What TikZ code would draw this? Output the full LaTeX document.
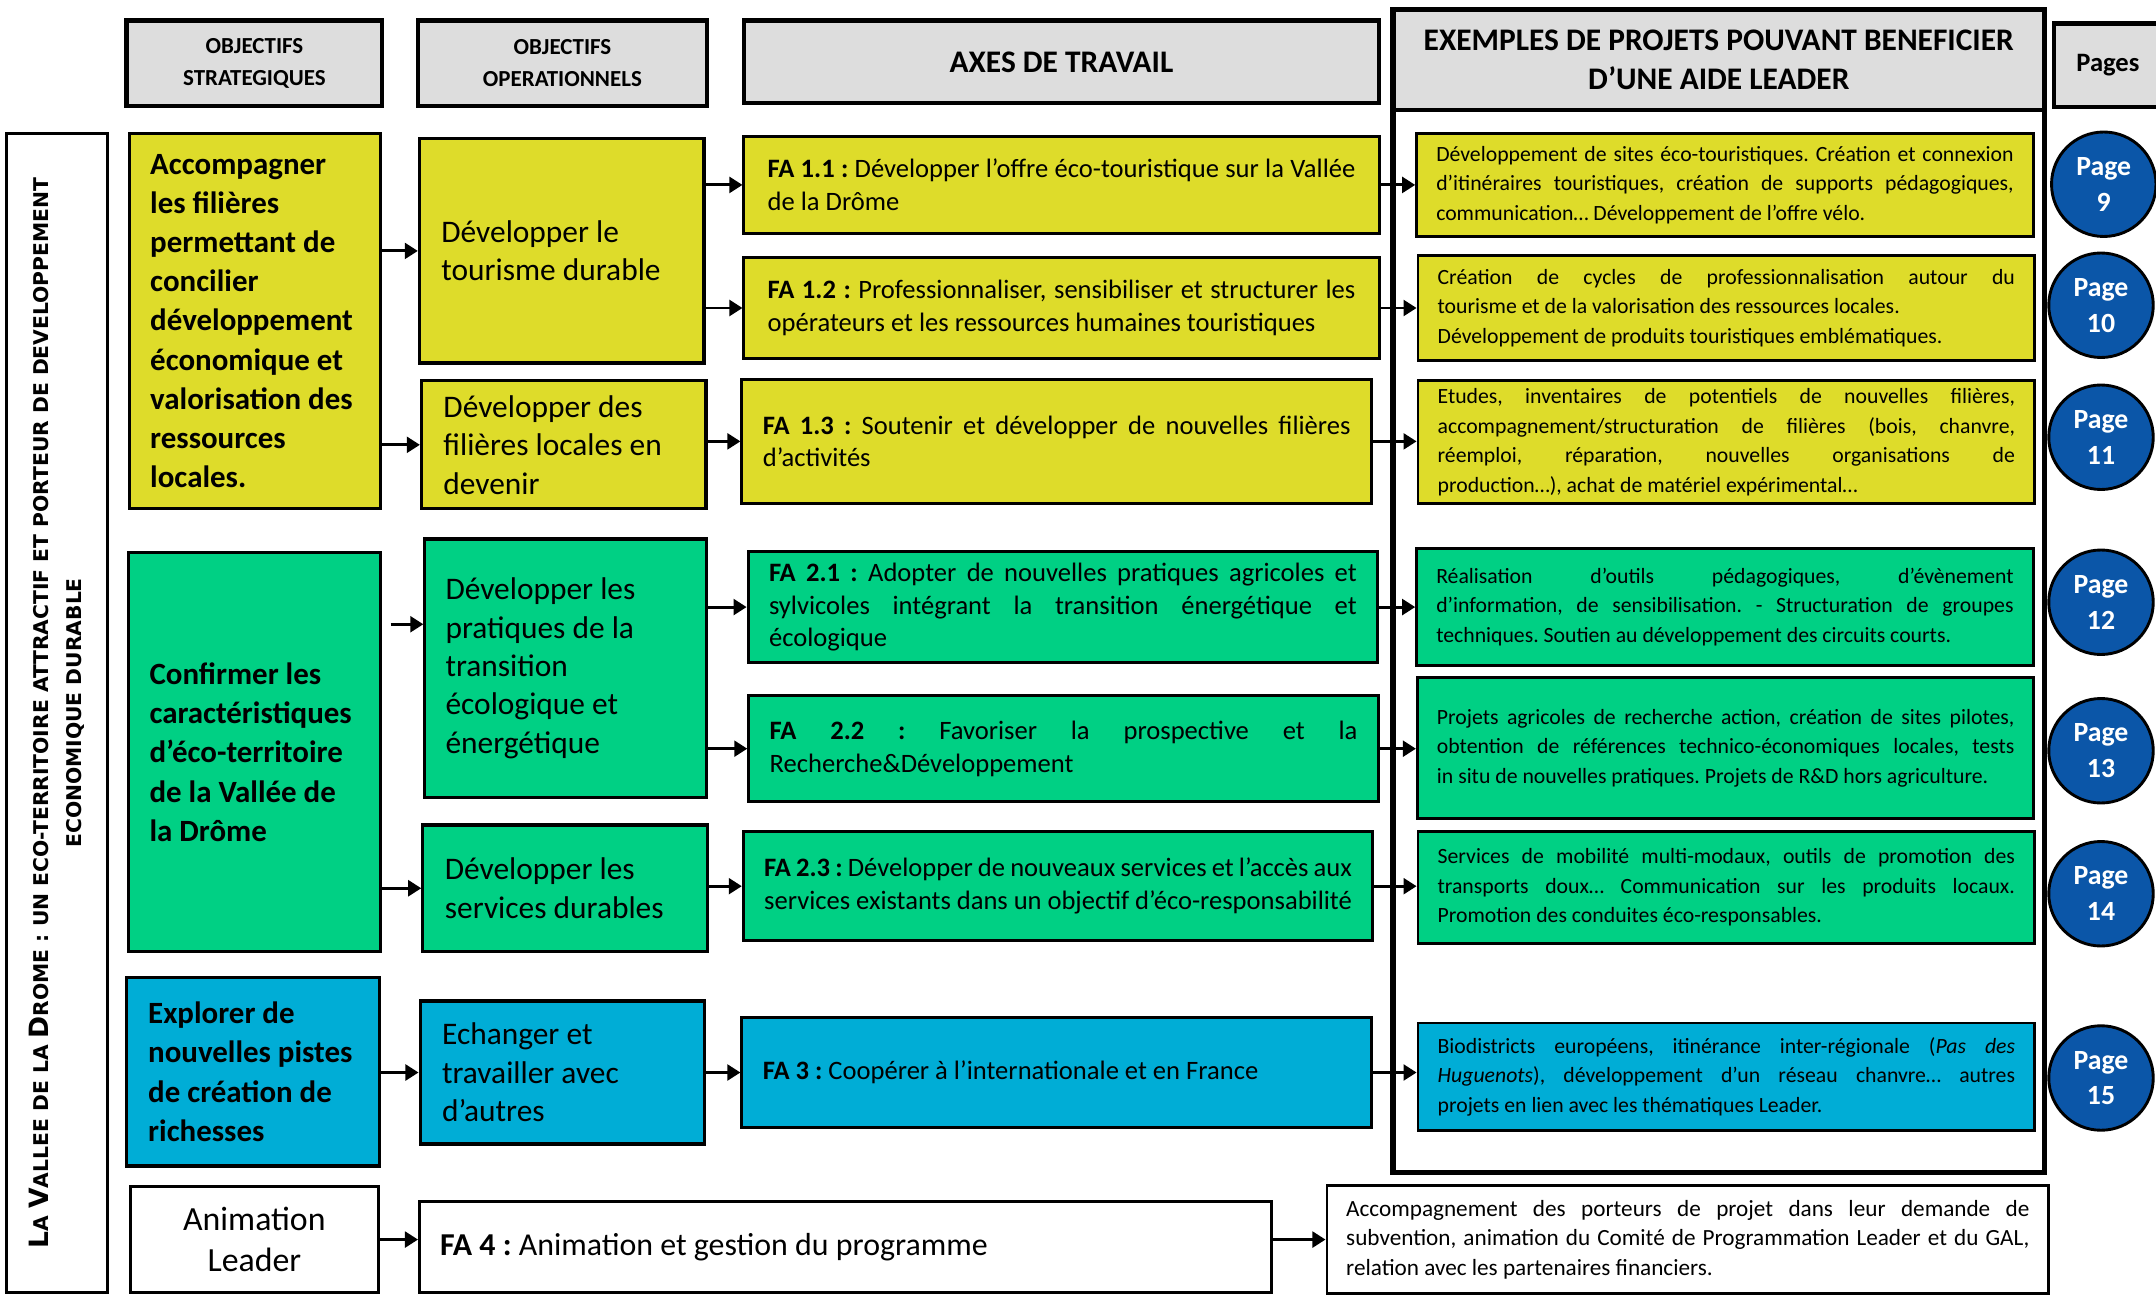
\documentclass[tikz,border=0pt]{standalone}
\usepackage{fontspec}
\setmainfont{Carlito}
\newfontfamily\vertfont{DejaVu Sans}
\usepackage{tikz}
\usetikzlibrary{arrows.meta, positioning, calc}
\frenchspacing
\definecolor{myyellow}{HTML}{DEDC2A}
\definecolor{mygreen}{HTML}{00D084}
\definecolor{myblue}{HTML}{00ADD6}
\definecolor{mygray}{HTML}{DDDDDD}
\definecolor{mypage}{HTML}{0B56A8}
\newcommand{\capletter}[1]{{\fontsize{11}{14}\selectfont #1}}
\tikzset{
header/.style={
draw=black,
fill=mygray,
line width=1.8pt,
inner sep=0pt,
align=center,
font=\fontsize{9.5}{13}\selectfont\bfseries
},
stratbox/.style={
draw=black,
line width=1.3pt,
inner sep=0pt,
minimum width=3.66cm,
text width=3.05cm,
align=flush left,
font=\fontsize{12.8}{16.2}\selectfont\bfseries
},
operbox/.style={
draw=black,
line width=1.3pt,
inner sep=0pt,
minimum width=4.14cm,
text width=3.5cm,
align=flush left,
font=\fontsize{13}{15.9}\selectfont
},
axebox/.style={
draw=black,
line width=1.2pt,
inner sep=0pt,
minimum width=9.16cm,
text width=8.55cm,
align=justify,
font=\fontsize{11}{13.6}\selectfont
},
exbox/.style={
draw=black,
line width=1.2pt,
inner sep=0pt,
minimum width=8.97cm,
text width=8.4cm,
align=justify,
font=\fontsize{9}{12.2}\selectfont
},
pagedot/.style={
circle,
draw=black,
line width=1.2pt,
fill=mypage,
text=white,
minimum size=1.52cm,
inner sep=0pt,
align=center,
font=\fontsize{11.5}{14.8}\selectfont\bfseries
},
titletext/.style={
align=center,
font=\vertfont\bfseries\fontsize{8.4}{13.7}\selectfont
},
arrow/.style={
-{Triangle[length=1.9mm,width=2.3mm]},
line width=1.2pt,
draw=black
}
}

\begin{document}
\begin{tikzpicture}[x=0.02cm, y=-0.02cm]
\useasboundingbox (0,0) rectangle (1568,942);
\clip (0,0) rectangle (1568,942);

\node[header, minimum width=3.72cm, minimum height=1.24cm] (hstrat) at (185,46) {OBJECTIFS\\STRATEGIQUES};
\node[header, minimum width=4.2cm, minimum height=1.24cm] (hoper) at (409,46) {OBJECTIFS\\OPERATIONNELS};
\node[header, minimum width=9.24cm, minimum height=1.2cm, font=\fontsize{13}{16}\selectfont\bfseries] (haxes) at (772,45) {AXES DE TRAVAIL};
\node[header, minimum width=9.48cm, minimum height=1.46cm, font=\fontsize{13}{16}\selectfont\bfseries] (hex) at (1250,43.5) {EXEMPLES DE PROJETS POUVANT BENEFICIER\\D’UNE AIDE LEADER};
\node[header, minimum width=1.56cm, minimum height=1.22cm, font=\fontsize{11}{13}\selectfont\bfseries] (hpages) at (1533,47.5) {Pages};
\node[draw=black, line width=2.2pt, minimum width=9.48cm, minimum height=16.92cm] (exframe) at (1250,430) {};

\node[draw=black, line width=1.3pt, minimum width=1.46cm, minimum height=16.86cm] (titlebox) at (41.5,518.5) {};
\node[titletext, rotate=90] (title) at (titlebox.center) {\capletter{L}A \capletter{V}ALLEE DE LA \capletter{D}ROME : UN ECO-TERRITOIRE ATTRACTIF ET PORTEUR DE DEVELOPPEMENT\\ECONOMIQUE DURABLE};

\node[stratbox, fill=myyellow, minimum height=5.46cm] (strat1) at (185.5,233.5) {Accompagner\\les filières\\permettant de\\concilier\\développement\\économique et\\valorisation des\\ressources\\locales.};
\node[stratbox, fill=mygreen, minimum height=5.8cm] (strat2) at (185,547) {Confirmer les\\caractéristiques\\d’éco-territoire\\de la Vallée de\\la Drôme};
\node[stratbox, fill=myblue, minimum width=3.68cm, minimum height=2.74cm] (strat3) at (184,779.5) {Explorer de\\nouvelles pistes\\de création de\\richesses};
\node[stratbox, fill=white, minimum width=3.6cm, minimum height=1.54cm, align=center, font=\fontsize{14}{17}\selectfont] (strat4) at (185,901.5) {Animation\\Leader};

\node[operbox, fill=myyellow, minimum height=3.26cm] (oper1) at (408.5,182.5) {Développer le\\tourisme durable};
\node[operbox, fill=myyellow, minimum height=1.86cm] (oper2) at (410,323.5) {Développer des\\filières locales en\\devenir};
\node[operbox, fill=mygreen, minimum width=4.1cm, minimum height=3.76cm] (oper3) at (411.5,486) {Développer les\\pratiques de la\\transition\\écologique et\\énergétique};
\node[operbox, fill=mygreen, minimum height=1.84cm] (oper4) at (411,646) {Développer les\\services durables};
\node[operbox, fill=myblue, minimum height=2.08cm] (oper5) at (409,780) {Echanger et\\travailler avec\\d’autres};

\node[axebox, fill=myyellow, minimum width=9.24cm, minimum height=1.42cm] (fa11) at (772,134.5) {\textbf{FA 1.1 :} Développer l’offre éco-touristique sur la Vallée\linebreak de la Drôme};
\node[axebox, fill=myyellow, minimum width=9.24cm, minimum height=1.48cm] (fa12) at (772,224) {\textbf{FA 1.2 :} Professionnaliser, sensibiliser et structurer les\linebreak opérateurs et les ressources humaines touristiques};
\node[axebox, fill=myyellow, minimum height=1.8cm] (fa13) at (768.5,321) {\textbf{FA 1.3 :} Soutenir et développer de nouvelles filières\linebreak d’activités};
\node[axebox, fill=mygreen, minimum height=1.62cm] (fa21) at (773,441.5) {\textbf{FA 2.1 :} Adopter de nouvelles pratiques agricoles et\linebreak sylvicoles intégrant la transition énergétique et\linebreak écologique};
\node[axebox, fill=mygreen, minimum height=1.54cm] (fa22) at (773.5,544.5) {\textbf{FA 2.2 :} Favoriser la prospective et la\linebreak Recherche\&Développement};
\node[axebox, fill=mygreen, minimum height=1.58cm] (fa23) at (769.5,644.5) {\textbf{FA 2.3 :} Développer de nouveaux services et l’accès aux\linebreak services existants dans un objectif d’éco-responsabilité};
\node[axebox, fill=myblue, minimum height=1.6cm, align=flush left] (fa3) at (768.5,780) {\textbf{FA 3 :} Coopérer à l’internationale et en France};
\node[axebox, fill=white, minimum width=12.4cm, minimum height=1.32cm, text width=11.8cm, align=flush left, font=\fontsize{13.2}{15.5}\selectfont] (fa4) at (615,907) {\textbf{FA 4 :} Animation et gestion du programme};

\node[exbox, fill=myyellow, minimum height=1.5cm] (ex1) at (1254.5,134.5) {Développement de sites éco-touristiques. Création et connexion\linebreak d’itinéraires touristiques, création de supports pédagogiques,\linebreak communication… Développement de l’offre vélo.};
\node[exbox, fill=myyellow, minimum height=1.52cm] (ex2) at (1255.5,224) {Création de cycles de professionnalisation autour du\linebreak tourisme et de la valorisation des ressources locales.\\Développement de produits touristiques emblématiques.};
\node[exbox, fill=myyellow, minimum height=1.78cm] (ex3) at (1255.5,321.5) {Etudes, inventaires de potentiels de nouvelles filières,\linebreak accompagnement/structuration de filières (bois, chanvre,\linebreak réemploi, réparation, nouvelles organisations de\linebreak production…), achat de matériel expérimental…};
\node[exbox, fill=mygreen, minimum height=1.7cm] (ex4) at (1254.5,441.5) {Réalisation d’outils pédagogiques, d’évènement\linebreak d’information, de sensibilisation. - Structuration de groupes\linebreak techniques. Soutien au développement des circuits courts.};
\node[exbox, fill=mygreen, minimum height=2.04cm] (ex5) at (1255,544) {Projets agricoles de recherche action, création de sites pilotes,\linebreak obtention de références technico-économiques locales, tests\linebreak in situ de nouvelles pratiques. Projets de R\&D hors agriculture.};
\node[exbox, fill=mygreen, minimum height=1.62cm] (ex6) at (1255.5,645.5) {Services de mobilité multi-modaux, outils de promotion des\linebreak transports doux… Communication sur les produits locaux.\linebreak Promotion des conduites éco-responsables.};
\node[exbox, fill=myblue, minimum height=1.56cm] (ex7) at (1255.5,783) {Biodistricts européens, itinérance inter-régionale (\textit{Pas des\linebreak Huguenots}), développement d’un réseau chanvre… autres\linebreak projets en lien avec les thématiques Leader.};
\node[exbox, fill=white, minimum width=10.5cm, minimum height=1.58cm, text width=9.94cm, font=\fontsize{9.6}{12.2}\selectfont] (ex8) at (1227.5,901.5) {Accompagnement des porteurs de projet dans leur demande de\linebreak subvention, animation du Comité de Programmation Leader et du GAL,\linebreak relation avec les partenaires financiers.};

\node[pagedot] (page9) at (1530,134) {Page\\9};
\node[pagedot] (page10) at (1528,222) {Page\\10};
\node[pagedot] (page11) at (1528,318) {Page\\11};
\node[pagedot] (page12) at (1528,438) {Page\\12};
\node[pagedot] (page13) at (1528,546) {Page\\13};
\node[pagedot] (page14) at (1528,650) {Page\\14};
\node[pagedot] (page15) at (1528,784) {Page\\15};

\coordinate (s2o3) at (284,454);

\draw[arrow] (strat1.east |- oper1.west) -- (oper1.west);
\draw[arrow] (strat1.east |- oper2.west) -- (oper2.west);
\draw[arrow] (s2o3) -- (s2o3 -| oper3.west);
\draw[arrow] (strat2.east |- oper4.west) -- (oper4.west);
\draw[arrow] (strat3.east |- oper5.west) -- (oper5.west);
\draw[arrow] (strat4.east) -- (strat4.east -| fa4.west);

\draw[arrow] (oper1.east |- fa11.west) -- (fa11.west);
\draw[arrow] (oper1.east |- fa12.west) -- (fa12.west);
\draw[arrow] (oper2.east |- fa13.west) -- (fa13.west);
\draw[arrow] (oper3.east |- fa21.west) -- (fa21.west);
\draw[arrow] (oper3.east |- fa22.west) -- (fa22.west);
\draw[arrow] (oper4.east |- fa23.west) -- (fa23.west);
\draw[arrow] (oper5.east |- fa3.west) -- (fa3.west);

\draw[arrow] (fa11.east) -- (fa11.east -| ex1.west);
\draw[arrow] (fa12.east) -- (fa12.east -| ex2.west);
\draw[arrow] (fa13.east) -- (fa13.east -| ex3.west);
\draw[arrow] (fa21.east) -- (fa21.east -| ex4.west);
\draw[arrow] (fa22.east) -- (fa22.east -| ex5.west);
\draw[arrow] (fa23.east) -- (fa23.east -| ex6.west);
\draw[arrow] (fa3.east) -- (fa3.east -| ex7.west);
\draw[arrow] (fa4.east |- ex8.west) -- (ex8.west);

\end{tikzpicture}
\end{document}
